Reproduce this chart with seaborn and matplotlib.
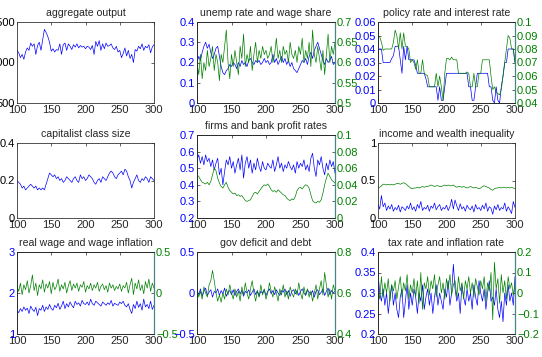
import numpy as np
import matplotlib
matplotlib.use("Agg")
import matplotlib.pyplot as plt
from matplotlib.ticker import FuncFormatter
import seaborn as sns

sns.set_theme(style="white")
plt.rcParams['font.family'] = ['Liberation Sans', 'DejaVu Sans']

# ---- data (periods 100..300, every 2.5) ----
output = [1150, 1120, 1060, 1100, 1040, 1130, 1180, 1150, 1240, 1200,
          1230, 1100, 1210, 1250, 1150, 1280, 1410, 1370, 1320, 1250,
          1140, 1170, 1130, 1160, 1150, 1230, 1100, 1220, 1240, 1150,
          1230, 1200, 1160, 1220, 1190, 1230, 1180, 1210, 1190, 1200,
          1170, 1200, 1190, 1160, 1210, 1100, 1260, 1200, 1270, 1150,
          1230, 1170, 1240, 1200, 1210, 1230, 1180, 1160, 1200, 1130,
          1150, 1060, 1110, 1180, 1080, 1150, 1050, 1100, 1000, 1160,
          1140, 1200, 1170, 1230, 1150, 1200, 1180, 1220, 1120, 1190,
          1220]

unemp = [0.20, 0.23, 0.21, 0.25, 0.28, 0.30, 0.27, 0.29, 0.25, 0.22,
         0.24, 0.27, 0.28, 0.23, 0.18, 0.15, 0.14, 0.16, 0.17, 0.19,
         0.18, 0.20, 0.19, 0.17, 0.20, 0.18, 0.21, 0.19, 0.20, 0.18,
         0.21, 0.22, 0.20, 0.19, 0.21, 0.20, 0.21, 0.19, 0.20, 0.22,
         0.20, 0.21, 0.19, 0.20, 0.24, 0.20, 0.22, 0.19, 0.21, 0.23,
         0.20, 0.22, 0.19, 0.21, 0.18, 0.20, 0.17, 0.16, 0.15, 0.17,
         0.19, 0.21, 0.20, 0.22, 0.19, 0.23, 0.25, 0.22, 0.26, 0.28,
         0.30, 0.27, 0.24, 0.21, 0.19, 0.22, 0.20, 0.21, 0.23, 0.19,
         0.20]
wage_share = [0.60, 0.57, 0.62, 0.56, 0.60, 0.58, 0.63, 0.59, 0.61, 0.64,
              0.58, 0.62, 0.60, 0.555, 0.62, 0.60, 0.64, 0.68, 0.60, 0.56,
              0.62, 0.59, 0.63, 0.60, 0.57, 0.64, 0.61, 0.67, 0.59, 0.62,
              0.60, 0.64, 0.58, 0.62, 0.65, 0.60, 0.63, 0.61, 0.64, 0.62,
              0.63, 0.61, 0.62, 0.64, 0.60, 0.62, 0.66, 0.61, 0.63, 0.60,
              0.64, 0.62, 0.63, 0.60, 0.65, 0.62, 0.61, 0.63, 0.60, 0.64,
              0.62, 0.66, 0.60, 0.63, 0.61, 0.65, 0.59, 0.68, 0.62, 0.60,
              0.64, 0.61, 0.58, 0.63, 0.57, 0.62, 0.67, 0.60, 0.64, 0.62,
              0.65]

policy_rate = [0.04, 0.04, 0.04, 0.03, 0.03, 0.03, 0.03, 0.03, 0.033, 0.035,
               0.042, 0.042, 0.042, 0.032, 0.022, 0.042, 0.032, 0.042, 0.032, 0.032,
               0.032, 0.032, 0.028, 0.022, 0.022, 0.022, 0.022, 0.022, 0.018, 0.012,
               0.012, 0.012, 0.012, 0.012, 0.012, 0.002, 0.012, 0.002, 0.002, 0.012,
               0.022, 0.022, 0.022, 0.022, 0.022, 0.022, 0.022, 0.022, 0.022, 0.022,
               0.022, 0.022, 0.022, 0.012, 0.012, 0.002, 0.002, 0.012, 0.022, 0.022,
               0.022, 0.022, 0.022, 0.022, 0.022, 0.012, 0.012, 0.002, 0.0, 0.012,
               0.002, 0.0, 0.012, 0.02, 0.03, 0.03, 0.04, 0.04, 0.04, 0.04,
               0.03]
interest_rate = [0.09, 0.089, 0.085, 0.079, 0.08, 0.08, 0.08, 0.08, 0.08, 0.085,
                 0.094, 0.09, 0.08, 0.092, 0.08, 0.092, 0.082, 0.082, 0.08, 0.07,
                 0.072, 0.07, 0.065, 0.072, 0.062, 0.062, 0.072, 0.062, 0.061, 0.06,
                 0.052, 0.052, 0.052, 0.052, 0.062, 0.052, 0.06, 0.052, 0.042, 0.062,
                 0.073, 0.073, 0.072, 0.074, 0.072, 0.072, 0.072, 0.062, 0.062, 0.062,
                 0.062, 0.062, 0.063, 0.062, 0.052, 0.052, 0.062, 0.052, 0.052, 0.062,
                 0.062, 0.072, 0.072, 0.072, 0.072, 0.072, 0.06, 0.05, 0.052, 0.048,
                 0.047, 0.046, 0.05, 0.06, 0.07, 0.08, 0.09, 0.088, 0.08, 0.08,
                 0.07]

capitalists = [0.20, 0.19, 0.18, 0.16, 0.17, 0.15, 0.16, 0.17, 0.18, 0.17,
               0.16, 0.17, 0.15, 0.16, 0.15, 0.16, 0.15, 0.18, 0.21, 0.24,
               0.23, 0.22, 0.23, 0.21, 0.22, 0.20, 0.21, 0.19, 0.20, 0.22,
               0.21, 0.20, 0.19, 0.21, 0.22, 0.20, 0.19, 0.23, 0.21, 0.22,
               0.20, 0.21, 0.23, 0.22, 0.21, 0.19, 0.18, 0.20, 0.21, 0.19,
               0.22, 0.21, 0.20, 0.22, 0.24, 0.25, 0.24, 0.22, 0.21, 0.23,
               0.24, 0.25, 0.23, 0.26, 0.25, 0.22, 0.20, 0.16, 0.19, 0.21,
               0.23, 0.20, 0.19, 0.21, 0.20, 0.22, 0.21, 0.19, 0.22, 0.21,
               0.20]

firm_profit = [0.55, 0.58, 0.53, 0.57, 0.52, 0.58, 0.54, 0.56, 0.51, 0.55,
               0.49, 0.53, 0.56, 0.46, 0.50, 0.40, 0.48, 0.55, 0.52, 0.57,
               0.50, 0.54, 0.47, 0.52, 0.56, 0.49, 0.58, 0.44, 0.53, 0.57,
               0.50, 0.55, 0.47, 0.53, 0.49, 0.56, 0.51, 0.48, 0.54, 0.50,
               0.49, 0.53, 0.51, 0.50, 0.55, 0.48, 0.52, 0.57, 0.50, 0.53,
               0.48, 0.52, 0.50, 0.54, 0.51, 0.49, 0.52, 0.47, 0.54, 0.50,
               0.53, 0.51, 0.55, 0.49, 0.52, 0.48, 0.56, 0.59, 0.50, 0.45,
               0.55, 0.52, 0.57, 0.50, 0.46, 0.53, 0.49, 0.55, 0.51, 0.54,
               0.47]
bank_profit = [0.052, 0.050, 0.046, 0.043, 0.042, 0.041, 0.043, 0.040, 0.044, 0.052,
               0.060, 0.057, 0.048, 0.042, 0.038, 0.036, 0.040, 0.043, 0.037, 0.033,
               0.031, 0.029, 0.030, 0.027, 0.028, 0.026, 0.027, 0.024, 0.021, 0.020,
               0.021, 0.022, 0.026, 0.030, 0.031, 0.029, 0.032, 0.035, 0.038, 0.040,
               0.039, 0.041, 0.038, 0.034, 0.032, 0.033, 0.031, 0.034, 0.032, 0.030,
               0.028, 0.027, 0.024, 0.022, 0.021, 0.023, 0.022, 0.026, 0.033, 0.036,
               0.037, 0.035, 0.038, 0.040, 0.039, 0.036, 0.028, 0.021, 0.019, 0.018,
               0.020, 0.019, 0.022, 0.030, 0.040, 0.048, 0.054, 0.050, 0.046, 0.044,
               0.042]

income_ineq = [0.18, 0.12, 0.30, 0.15, 0.20, 0.10, 0.16, 0.12, 0.18, 0.09,
               0.14, 0.11, 0.17, 0.08, 0.15, 0.13, 0.10, 0.16, 0.12, 0.20,
               0.11, 0.15, 0.09, 0.18, 0.13, 0.22, 0.10, 0.14, 0.12, 0.17,
               0.09, 0.16, 0.13, 0.20, 0.11, 0.15, 0.18, 0.10, 0.14, 0.12,
               0.17, 0.10, 0.15, 0.25, 0.12, 0.24, 0.16, 0.10, 0.19, 0.12,
               0.15, 0.09, 0.17, 0.13, 0.11, 0.16, 0.08, 0.18, 0.12, 0.14,
               0.10, 0.17, 0.12, 0.20, 0.09, 0.15, 0.13, 0.05, 0.16, 0.11,
               0.18, 0.10, 0.14, 0.12, 0.20, 0.09, 0.15, 0.11, 0.06, 0.22,
               0.14]
wealth_ineq = [0.40, 0.41, 0.43, 0.45, 0.45, 0.44, 0.45, 0.44, 0.45, 0.44,
               0.45, 0.46, 0.46, 0.45, 0.46, 0.47, 0.46, 0.44, 0.42, 0.40,
               0.39, 0.40, 0.40, 0.41, 0.40, 0.41, 0.42, 0.41, 0.42, 0.42,
               0.43, 0.44, 0.43, 0.42, 0.43, 0.43, 0.42, 0.42, 0.43, 0.44,
               0.43, 0.44, 0.43, 0.43, 0.44, 0.42, 0.41, 0.42, 0.42, 0.41,
               0.42, 0.41, 0.40, 0.41, 0.42, 0.41, 0.40, 0.41, 0.40, 0.39,
               0.40, 0.42, 0.43, 0.42, 0.41, 0.40, 0.38, 0.37, 0.39, 0.40,
               0.40, 0.41, 0.40, 0.41, 0.41, 0.40, 0.41, 0.40, 0.41, 0.40,
               0.39]

real_wage = [1.58, 1.52, 1.62, 1.55, 1.66, 1.58, 1.63, 1.50, 1.68, 1.60,
             1.55, 1.65, 1.45, 1.62, 1.58, 1.70, 1.55, 1.66, 1.60, 1.72,
             1.62, 1.58, 1.70, 1.64, 1.75, 1.60, 1.68, 1.80, 1.62, 1.74,
             1.66, 1.78, 1.70, 1.64, 1.80, 1.72, 1.76, 1.68, 1.82, 1.74,
             1.72, 1.78, 1.70, 1.85, 1.74, 1.70, 1.80, 1.76, 1.72, 1.68,
             1.78, 1.74, 1.70, 1.76, 1.72, 1.82, 1.68, 1.75, 1.72, 1.70,
             1.78, 1.74, 1.80, 1.70, 1.66, 1.74, 1.60, 1.50, 1.72, 1.62,
             1.80, 1.65, 1.74, 1.58, 1.85, 1.66, 1.72, 1.62, 1.80, 1.60,
             1.70]
wage_infl = [0.08, 0.02, 0.12, -0.02, 0.10, 0.04, 0.15, 0.00, 0.09, 0.22,
             0.03, 0.12, -0.03, 0.10, 0.05, 0.16, 0.01, 0.11, 0.06, 0.14,
             -0.01, 0.13, 0.04, 0.08, 0.17, 0.02, 0.10, 0.05, 0.13, 0.00,
             0.09, 0.15, 0.03, 0.11, 0.06, 0.12, 0.02, 0.10, 0.07, 0.14,
             0.01, 0.09, 0.05, 0.12, 0.03, 0.10, 0.06, 0.13, 0.02, 0.08,
             0.11, 0.04, 0.09, 0.01, 0.12, 0.06, 0.10, 0.03, 0.08, 0.05,
             0.11, 0.02, 0.09, 0.06, 0.13, 0.00, 0.10, 0.18, -0.02, 0.12,
             0.05, 0.16, 0.03, 0.10, -0.01, 0.14, 0.06, 0.17, 0.02, 0.12,
             0.06]

deficit = [0.03, -0.02, 0.05, -0.04, 0.02, 0.06, -0.03, 0.01, 0.04, -0.05,
           0.02, 0.00, 0.05, -0.03, 0.03, -0.01, 0.06, -0.04, 0.01, 0.03,
           -0.02, 0.04, -0.03, 0.02, 0.05, -0.01, 0.03, -0.04, 0.02, 0.00,
           0.04, -0.03, 0.01, 0.05, -0.02, 0.03, -0.04, 0.02, 0.00, 0.04,
           -0.03, 0.02, 0.05, -0.01, 0.03, -0.02, 0.04, 0.00, -0.03, 0.03,
           0.01, 0.05, -0.02, 0.03, -0.04, 0.02, 0.04, -0.01, 0.03, -0.03,
           0.02, 0.05, 0.00, -0.03, 0.04, 0.01, -0.02, 0.03, -0.05, 0.02,
           0.04, -0.02, 0.01, 0.05, -0.03, 0.02, 0.06, -0.02, 0.03, 0.00,
           0.02]
debt = [0.62, 0.58, 0.61, 0.57, 0.63, 0.60, 0.58, 0.64, 0.66, 0.71,
        0.66, 0.60, 0.56, 0.59, 0.555, 0.60, 0.57, 0.62, 0.59, 0.64,
        0.60, 0.57, 0.62, 0.58, 0.61, 0.56, 0.63, 0.59, 0.65, 0.60,
        0.57, 0.62, 0.66, 0.60, 0.56, 0.61, 0.58, 0.64, 0.59, 0.62,
        0.57, 0.60, 0.65, 0.61, 0.58, 0.63, 0.60, 0.56, 0.62, 0.59,
        0.64, 0.58, 0.61, 0.57, 0.63, 0.60, 0.58, 0.62, 0.59, 0.65,
        0.60, 0.57, 0.63, 0.59, 0.62, 0.58, 0.61, 0.56, 0.60, 0.64,
        0.57, 0.62, 0.66, 0.59, 0.70, 0.64, 0.58, 0.62, 0.57, 0.64,
        0.61]

tax_rate = [0.35, 0.30, 0.28, 0.31, 0.27, 0.30, 0.25, 0.29, 0.32, 0.27,
            0.30, 0.26, 0.24, 0.29, 0.31, 0.24, 0.28, 0.32, 0.26, 0.30,
            0.27, 0.31, 0.29, 0.25, 0.30, 0.28, 0.32, 0.26, 0.29, 0.31,
            0.27, 0.30, 0.25, 0.29, 0.32, 0.27, 0.30, 0.28, 0.26, 0.31,
            0.29, 0.33, 0.27, 0.30, 0.37, 0.31, 0.28, 0.30, 0.25, 0.32,
            0.29, 0.27, 0.31, 0.28, 0.30, 0.26, 0.32, 0.29, 0.27, 0.33,
            0.30, 0.28, 0.31, 0.26, 0.30, 0.33, 0.28, 0.29, 0.27, 0.31,
            0.26, 0.24, 0.28, 0.23, 0.30, 0.27, 0.32, 0.28, 0.30, 0.27,
            0.34]
inflation = [0.02, -0.03, 0.08, -0.02, 0.05, 0.00, 0.07, -0.04, 0.04, 0.01,
             0.06, -0.03, 0.03, 0.08, -0.02, 0.05, 0.01, 0.09, -0.03, 0.04,
             0.00, 0.07, -0.02, 0.06, -0.05, 0.10, -0.08, 0.05, 0.02, 0.08,
             -0.01, 0.06, 0.02, 0.09, -0.02, 0.04, 0.08, 0.00, 0.05, -0.03,
             0.07, 0.02, 0.09, -0.01, 0.04, 0.06, -0.02, 0.08, 0.01, 0.05,
             -0.03, 0.06, 0.02, 0.08, 0.00, 0.05, -0.02, 0.07, 0.03, -0.01,
             0.06, 0.02, 0.08, -0.04, 0.05, 0.01, 0.10, -0.13, 0.15, 0.02,
             0.07, -0.05, 0.09, 0.00, 0.06, -0.03, 0.08, 0.02, 0.05, -0.01,
             0.04]

BLUE = (0, 0, 1)
GREEN = (0, 0.5, 0)
W, H = 542, 357


def fmt(v, pos):
    return ('%g' % round(v, 6)).replace('-', '\u2212')


def make_ax(fig, left, top, right, bottom):
    return fig.add_axes([left / W, 1 - bottom / H, (right - left) / W, (bottom - top) / H])


def draw(ax, y, color):
    x = np.linspace(100, 300, len(y))
    sns.lineplot(x=x, y=y, ax=ax, color=color, linewidth=0.5)
    ax.set_xlabel('')
    ax.set_ylabel('')


def style(ax, title, yticks, tick_color='black', twin=False):
    ax.set_xlim(100, 300)
    ax.set_xticks([100, 150, 200, 250, 300])
    ax.set_ylim(yticks[0], yticks[-1])
    ax.set_yticks(yticks)
    ax.yaxis.set_major_formatter(FuncFormatter(fmt))
    ax.tick_params(direction='in', length=2.5, width=0.5, labelsize=8, pad=1.5,
                   top=True, right=not twin)
    ax.tick_params(axis='y', labelcolor=tick_color)
    for s in ax.spines.values():
        s.set_linewidth(0.6)
        s.set_color('#333333')
    if twin:
        ax.spines['left'].set_color('#2a2a70')
    if title:
        ax.set_title(title, fontsize=7.6, pad=4)


def add_twin(ax, y, yticks):
    ax2 = ax.twinx()
    draw(ax2, y, GREEN)
    ax2.set_ylim(yticks[0], yticks[-1])
    ax2.set_yticks(yticks)
    ax2.yaxis.set_major_formatter(FuncFormatter(fmt))
    ax2.tick_params(direction='in', length=2.5, width=0.5, labelsize=8, pad=1.5,
                    labelcolor=GREEN)
    for s in ax2.spines.values():
        s.set_linewidth(0.6)
    ax2.spines['right'].set_color('#4a8585')
    ax2.spines['right'].set_linewidth(0.9)
    return ax2


fig = plt.figure(figsize=(W / 100, H / 100), dpi=100)
fig.patch.set_facecolor('white')

cols = [(17, 154), (197, 335), (378, 515)]

# row 1
ax = make_ax(fig, cols[0][0], 22, cols[0][1], 103)
draw(ax, output, BLUE)
style(ax, 'aggregate output', [500, 1000, 1500])

ax = make_ax(fig, cols[1][0], 22, cols[1][1], 103)
draw(ax, unemp, BLUE)
style(ax, 'unemp rate and wage share', [0, 0.1, 0.2, 0.3, 0.4], BLUE, twin=True)
add_twin(ax, wage_share, [0.5, 0.55, 0.6, 0.65, 0.7])

ax = make_ax(fig, cols[2][0], 22, cols[2][1], 103)
draw(ax, policy_rate, BLUE)
style(ax, 'policy rate and interest rate', [0, 0.01, 0.02, 0.03, 0.04, 0.05, 0.06], BLUE, twin=True)
add_twin(ax, interest_rate, [0.04, 0.05, 0.06, 0.07, 0.08, 0.09, 0.1])

# row 2
ax = make_ax(fig, cols[0][0], 143, cols[0][1], 218)
draw(ax, capitalists, BLUE)
style(ax, 'capitalist class size', [0, 0.2, 0.4])

ax = make_ax(fig, cols[1][0], 135, cols[1][1], 218)
draw(ax, firm_profit, BLUE)
style(ax, 'firms and bank profit rates', [0.2, 0.3, 0.4, 0.5, 0.6, 0.7], BLUE, twin=True)
add_twin(ax, bank_profit, [0, 0.02, 0.04, 0.06, 0.08, 0.1])

ax = make_ax(fig, cols[2][0], 143, cols[2][1], 218)
draw(ax, wealth_ineq, GREEN)
draw(ax, income_ineq, BLUE)
style(ax, 'income and wealth inequality', [0, 0.5, 1])

# row 3
ax = make_ax(fig, cols[0][0], 252, cols[0][1], 334)
draw(ax, real_wage, BLUE)
style(ax, 'real wage and wage inflation', [1, 2, 3], BLUE, twin=True)
add_twin(ax, wage_infl, [-0.5, 0, 0.5])

ax = make_ax(fig, cols[1][0], 252, cols[1][1], 334)
draw(ax, deficit, BLUE)
style(ax, 'gov deficit and debt', [-0.5, 0, 0.5], BLUE, twin=True)
add_twin(ax, debt, [0.4, 0.6, 0.8])

ax = make_ax(fig, cols[2][0], 252, cols[2][1], 334)
draw(ax, tax_rate, BLUE)
style(ax, 'tax rate and inflation rate', [0.2, 0.25, 0.3, 0.35, 0.4], BLUE, twin=True)
add_twin(ax, inflation, [-0.2, -0.1, 0, 0.1, 0.2])

fig.savefig('out.png', dpi=100)
